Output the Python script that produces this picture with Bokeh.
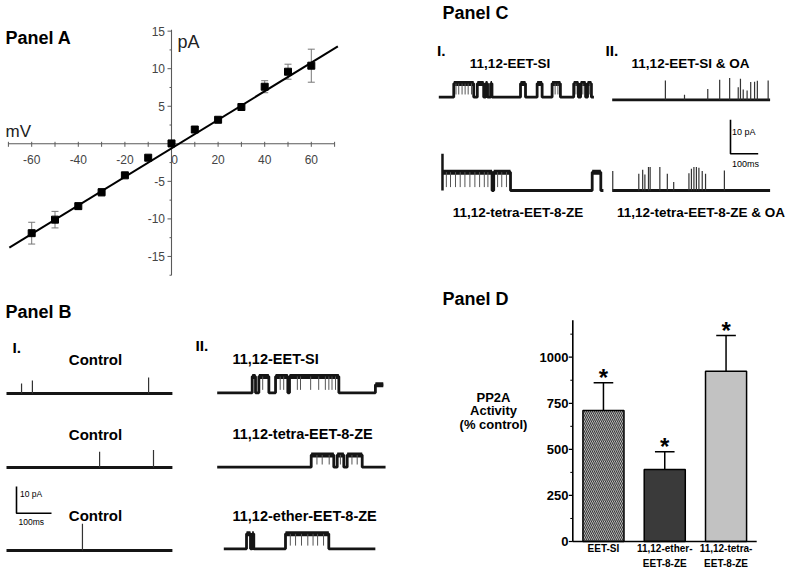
from bokeh.plotting import figure
from bokeh.layouts import row, column
from bokeh.models import Range1d, ColumnDataSource
from bokeh.core.properties import value
from bokeh.embed import file_html
from bokeh.resources import INLINE

FONT = "Liberation Sans"

# ======================= DATA =======================
# Panel A : current-voltage relation
A_VOLTAGES = [-60, -50, -40, -30, -20, -10, 0, 10, 20, 30, 40, 50, 60]          # mV
A_CURRENTS = [-11.9, -10.1, -8.3, -6.45, -4.2, -1.85, 0.05, 1.9, 3.2, 4.9, 7.6, 9.6, 10.4]  # pA
A_ERRORS = [1.45, 1.1, 0.4, 0.5, 0.3, 0.0, 0.0, 0.0, 0.0, 0.4, 0.8, 1.0, 2.2]
A_FIT_SLOPE = 0.19      # pA / mV
A_FIT_INTERCEPT = -0.6  # pA
A_FIT_SPAN = [-69.6, 71.4]
A_X_AXIS = [-70, 70]
A_Y_AXIS = [-17.5, 15.2]
A_XTICKS = [-70, -60, -50, -40, -30, -20, -10, 10, 20, 30, 40, 50, 60, 70]
A_XLABEL_VALUES = [-60, -40, -20, 0, 20, 40, 60]
A_XLABELS = ["-60", "-40", "-20", "0", "20", "40", "60"]
A_YTICKS = [-15, -10, -5, 5, 10, 15]
A_YMINOR = [-17.5, -12.5, -7.5, -2.5, 2.5, 7.5, 12.5]
A_YLABELS = ["-15", "-10", "-5", "5", "10", "15"]

# Panel B : single-channel traces (ms, pA)
B_CONTROL_LABEL = "Control"
B_CONTROL_DURATION = 474
B_CONTROL_SPIKE_TIMES = [[43, 74, 406], [266, 420], [217]]
B_CONTROL_SPIKE_AMPS = [[3.7, 4.9, 6.0], [5.9, 6.6], [10.0]]

B_DRUG_LABELS = ["11,12-EET-SI", "11,12-tetra-EET-8-ZE", "11,12-ether-EET-8-ZE"]
B_DRUG_TIMES = [
    [0, 100, 109.5, 119, 147.6, 166.7, 201.8, 206.6, 347.6, 452, 474.5],
    [0, 268.6, 333.1, 342.9, 361.7, 371.4, 414.3, 481],
    [0, 64.9, 76.3, 81.1, 85.7, 176.3, 300, 433],
]
B_DRUG_LEVELS = [
    [0, 6.1, 0, 6.1, 0, 6.1, 0, 6.1, 0, 3.0],
    [0, 4.6, 0, 4.6, 0, 4.6, 0],
    [0, 5.6, 0, 5.6, 0, 5.6, 0],
]
B_DRUG_FLICKERS = [
    [130, 180, 190, 229, 238, 267, 290, 309, 319, 328, 338],
    [285, 300, 320, 352, 385, 400],
    [190, 205, 222, 240, 255, 268, 285],
]
B_FLICKER_DEPTH = [5.0, 3.6, 4.4]

# Panel C : traces (ms, pA)
C_I_LABELS = ["11,12-EET-SI", "11,12-tetra-EET-8-ZE"]
C_I_TIMES = [
    [0, 54, 126, 139, 162, 169, 176, 187, 192, 295, 313, 355, 373, 409, 439, 487, 504, 512, 530, 537, 551, 560],
    [0, 180, 186, 246.6, 541.5, 572.6, 582],
]
C_I_LEVELS = [
    [0, 4, 0, 4, 0, 4, 0, 4, 0, 4, 0, 4, 0, 4, 0, 4, 0, 4, 0, 4, 0],
    [5.4, 0, 5.4, 0, 5.4, 0],
]
C_I_FLICKERS = [
    [62, 72, 84, 95, 106, 118, 420, 430, 495, 520, 545],
    [15, 30, 48, 65, 82, 100, 118, 135, 152, 165, 200, 215, 232],
]
C_I_FLICKER_DEPTH = [3.2, 4.4]
C_I_SPIKE_TIMES = [[], [1]]
C_I_SPIKE_AMPS = [[], [10.8]]

C_II_LABELS = ["11,12-EET-SI & OA", "11,12-tetra-EET-8-ZE & OA"]
C_II_DURATION = 570
C_II_SPIKE_TIMES = [
    [192, 261, 345, 388, 424, 455, 463, 473, 487, 500, 514, 524, 563],
    [2, 96, 110, 118, 131, 137, 172, 199, 222, 277, 286, 295, 304, 313, 325, 337, 405],
]
C_II_SPIKE_AMPS = [
    [5.7, 1.5, 3.2, 5.9, 6.4, 3.7, 6.2, 3.0, 2.7, 5.2, 5.3, 5.6, 5.7],
    [5.7, 4.9, 6.1, 4.7, 6.9, 6.9, 6.9, 4.9, 2.5, 5.1, 6.4, 6.9, 6.9, 6.7, 5.7, 4.9, 5.9],
]

SCALE_PA = 10
SCALE_MS = 100

# Panel D : PP2A activity
D_CATEGORIES = ["EET-SI", "11,12-ether-EET-8-ZE", "11,12-tetra-EET-8-ZE"]
D_TICK_LINES = [["EET-SI"], ["11,12-ether-", "EET-8-ZE"], ["11,12-tetra-", "EET-8-ZE"]]
D_VALUES = [711, 391, 924]
D_ERRORS = [150, 96, 194]
D_FILLS = ["#d8d8d8", "#3a3a3a", "#c2c2c2"]
D_HATCHES = ["left_diagonal_line", " ", " "]
D_YTICKS = [0, 250, 500, 750, 1000]
D_YMINOR = [125, 375, 625, 875, 1125]
D_YLABELS = ["0", "250", "500", "750", "1000"]
D_YMAX = 1200
D_YLABEL_LINES = ["PP2A", "Activity", "(% control)"]


# ======================= HELPERS =======================
def make_panel(x0, y0, w, h, xr, yr):
    p = figure(width=w, height=h, x_range=Range1d(*xr), y_range=Range1d(*yr),
               output_backend="svg", toolbar_location=None,
               x_axis_location=None, y_axis_location=None, min_border=0)
    p.outline_line_color = None
    p.grid.visible = False
    p.background_fill_color = "white"
    p.border_fill_color = "white"
    p.extra_x_ranges = {"px": Range1d(x0, x0 + w)}
    p.extra_y_ranges = {"px": Range1d(y0 + h, y0)}
    return p


def px_x(p, px):
    r, s = p.x_range, p.extra_x_ranges["px"]
    return r.start + (px - s.start) / (s.end - s.start) * (r.end - r.start)


def px_y(p, py):
    r, s = p.y_range, p.extra_y_ranges["px"]
    return r.start + (py - s.start) / (s.end - s.start) * (r.end - r.start)


def dx(p, n):
    return n / p.width * (p.x_range.end - p.x_range.start)


def dy(p, n):
    return n / p.height * (p.y_range.end - p.y_range.start)


def put_text(p, xs, ys, texts, size, bold=True, align="left", color="black",
             xr="px", yr="px", baseline="middle", x_offset=0):
    kw = {}
    if xr != "default":
        kw["x_range_name"] = xr
    if yr != "default":
        kw["y_range_name"] = yr
    p.text(x=list(xs), y=list(ys), text=list(texts), text_font=value(FONT),
           text_font_size=f"{size}px", text_font_style="bold" if bold else "normal",
           text_align=align, text_baseline=baseline, text_color=color,
           x_offset=x_offset, **kw)


def draw_trace(p, ox, oy, times, levels, lw=2.8, open_lw=5.0, color="#151515"):
    xs, ys = [], []
    for i, lv in enumerate(levels):
        xs += [ox + times[i], ox + times[i + 1]]
        ys += [oy + lv, oy + lv]
    p.line(xs, ys, line_width=lw, line_color=color)
    ox0 = [ox + times[i] for i, lv in enumerate(levels) if lv != 0]
    ox1 = [ox + times[i + 1] for i, lv in enumerate(levels) if lv != 0]
    oyv = [oy + lv for lv in levels if lv != 0]
    if ox0:
        p.segment(x0=ox0, y0=oyv, x1=ox1, y1=oyv, line_width=open_lw, line_color=color)


def level_at(times, levels, t):
    for i, lv in enumerate(levels):
        if times[i] <= t <= times[i + 1]:
            return lv
    return 0


def draw_spikes(p, ox, oy, times, amps, lw=1.2, color="#333333"):
    if not times:
        return
    p.segment(x0=[ox + t for t in times], y0=[oy] * len(times),
              x1=[ox + t for t in times], y1=[oy + a for a in amps],
              line_width=lw, line_color=color)


def draw_flickers(p, ox, oy, times, levels, flick, depth, color="#555555"):
    tops = [oy + level_at(times, levels, t) for t in flick]
    p.segment(x0=[ox + t for t in flick], y0=tops,
              x1=[ox + t for t in flick], y1=[tp - depth for tp in tops],
              line_width=1.0, line_color=color)


def draw_scalebar(p, cx_px, cy_px):
    cx, cy = px_x(p, cx_px), px_y(p, cy_px)
    p.line([cx, cx, cx + SCALE_MS], [cy + SCALE_PA, cy, cy], line_width=1.6,
           line_color="black")


# ======================= PANEL A =======================
A_ZERO_X, A_PX_PER_MV = 171.0, 2.33
A_ZERO_Y, A_PX_PER_PA = 143.3, 7.51
pA = make_panel(0, 0, 400, 290,
                ((0 - A_ZERO_X) / A_PX_PER_MV, (400 - A_ZERO_X) / A_PX_PER_MV),
                ((A_ZERO_Y - 290) / A_PX_PER_PA, (A_ZERO_Y - 0) / A_PX_PER_PA))
axis_col = "#5a5a5a"
pA.segment(x0=[A_X_AXIS[0], 0], y0=[0, A_Y_AXIS[0]], x1=[A_X_AXIS[1], 0], y1=[0, A_Y_AXIS[1]],
           line_width=1.1, line_color=axis_col)
pA.segment(x0=A_XTICKS, y0=[dy(pA, 2)] * len(A_XTICKS), x1=A_XTICKS,
           y1=[-dy(pA, 3)] * len(A_XTICKS), line_width=1, line_color=axis_col)
pA.segment(x0=[0] * len(A_YTICKS), y0=A_YTICKS, x1=[-dx(pA, 4)] * len(A_YTICKS), y1=A_YTICKS,
           line_width=1, line_color=axis_col)
pA.segment(x0=[0] * len(A_YMINOR), y0=A_YMINOR, x1=[-dx(pA, 2)] * len(A_YMINOR), y1=A_YMINOR,
           line_width=1, line_color=axis_col)
put_text(pA, A_XLABEL_VALUES, [159] * len(A_XLABELS), A_XLABELS, 12, bold=False,
         align="center", color="#444444", xr="default", yr="px",
         x_offset=[3 if v == 0 else 0 for v in A_XLABEL_VALUES])
put_text(pA, [164.5] * len(A_YLABELS), A_YTICKS, A_YLABELS, 12, bold=False,
         align="right", color="#444444", xr="px", yr="default")
# error bars
ev = [(v, c, e) for v, c, e in zip(A_VOLTAGES, A_CURRENTS, A_ERRORS) if e > 0]
cap = dx(pA, 3.5)
pA.segment(x0=[v for v, c, e in ev], y0=[c - e for v, c, e in ev],
           x1=[v for v, c, e in ev], y1=[c + e for v, c, e in ev], line_color="#777777", line_width=1)
pA.segment(x0=[v - cap for v, c, e in ev] * 2, y0=[c - e for v, c, e in ev] + [c + e for v, c, e in ev],
           x1=[v + cap for v, c, e in ev] * 2, y1=[c - e for v, c, e in ev] + [c + e for v, c, e in ev],
           line_color="#777777", line_width=1)
pA.line(A_FIT_SPAN, [A_FIT_SLOPE * x + A_FIT_INTERCEPT for x in A_FIT_SPAN],
        line_width=2, line_color="black")
pA.scatter(A_VOLTAGES, A_CURRENTS, marker="square", size=7, color="black")
put_text(pA, [5], [37.5], ["Panel A"], 18)
put_text(pA, [5], [131], ["mV"], 17, bold=False, color="#222222")
put_text(pA, [177], [41], ["pA"], 18, bold=False, color="#222222")

# ======================= PANEL B =======================
B_PX_PER_MS, B_PX_PER_PA = 0.35, 2.67
pB = make_panel(0, 290, 400, 278, (0, 400 / B_PX_PER_MS), (0, 278 / B_PX_PER_PA))
B_CTRL_X = 6
B_CTRL_Y = [393, 467, 550]
B_DRUG_X = [216.7, 216.7, 223.3]
B_DRUG_Y = [392.3, 466.7, 548.3]
for k in range(3):
    ox, oy = px_x(pB, B_CTRL_X), px_y(pB, B_CTRL_Y[k])
    draw_trace(pB, ox, oy, [0, B_CONTROL_DURATION], [0])
    draw_spikes(pB, ox, oy, B_CONTROL_SPIKE_TIMES[k], B_CONTROL_SPIKE_AMPS[k])
    ox, oy = px_x(pB, B_DRUG_X[k]), px_y(pB, B_DRUG_Y[k])
    draw_trace(pB, ox, oy, B_DRUG_TIMES[k], B_DRUG_LEVELS[k])
    draw_flickers(pB, ox, oy, B_DRUG_TIMES[k], B_DRUG_LEVELS[k], B_DRUG_FLICKERS[k], B_FLICKER_DEPTH[k])
draw_scalebar(pB, 16, 512.7)
label_y = [358.7, 433.7, 515.3]
put_text(pB, [5], [311], ["Panel B"], 18)
put_text(pB, [12, 195], [347, 345], ["I.", "II."], 15.5)
put_text(pB, [95] * 3, label_y, [B_CONTROL_LABEL] * 3, 15, align="center")
put_text(pB, [232] * 3, label_y, B_DRUG_LABELS, 14.5)
put_text(pB, [19.5, 18], [493.5, 521.5], ["10 pA", "100ms"], 8.5, bold=False)

# ======================= PANEL C =======================
C_PX_PER_MS, C_PX_PER_PA = 0.277, 3.4
pC = make_panel(400, 0, 390, 278, (0, 390 / C_PX_PER_MS), (0, 278 / C_PX_PER_PA))
C_I_X = [438.3, 441.7]
C_I_Y = [96.7, 190]
C_II_X = [611.7, 611.7]
C_II_Y = [99.3, 190]
for k in range(2):
    ox, oy = px_x(pC, C_I_X[k]), px_y(pC, C_I_Y[k])
    draw_trace(pC, ox, oy, C_I_TIMES[k], C_I_LEVELS[k])
    draw_flickers(pC, ox, oy, C_I_TIMES[k], C_I_LEVELS[k], C_I_FLICKERS[k], C_I_FLICKER_DEPTH[k])
    draw_spikes(pC, ox, oy, C_I_SPIKE_TIMES[k], C_I_SPIKE_AMPS[k], lw=2.5, color="#151515")
    ox, oy = px_x(pC, C_II_X[k]), px_y(pC, C_II_Y[k])
    draw_trace(pC, ox, oy, [0, C_II_DURATION], [0])
    draw_spikes(pC, ox, oy, C_II_SPIKE_TIMES[k], C_II_SPIKE_AMPS[k])
draw_scalebar(pC, 730, 153.3)
put_text(pC, [442], [12], ["Panel C"], 18)
put_text(pC, [436.5, 605], [50, 50], ["I.", "II."], 15.5)
put_text(pC, [509.5, 690], [62.5, 62.5], [C_I_LABELS[0], C_II_LABELS[0]], 13.5, align="center")
put_text(pC, [517.5, 700.5], [212, 212], [C_I_LABELS[1], C_II_LABELS[1]], 13.5, align="center")
put_text(pC, [731.5, 731.5], [131, 163.5], ["10 pA", "100ms"], 9, bold=False)

# ======================= PANEL D =======================
D_AXIS_X, D_PX_PER_CAT = 572.3, 61.3
D_AXIS_Y, D_PX_PER_UNIT = 541.0, 0.1843
pD = make_panel(400, 278, 390, 290,
                ((400 - D_AXIS_X) / D_PX_PER_CAT, (790 - D_AXIS_X) / D_PX_PER_CAT),
                ((D_AXIS_Y - 568) / D_PX_PER_UNIT, (D_AXIS_Y - 278) / D_PX_PER_UNIT))
n = len(D_CATEGORIES)
xc = [i + 0.5 for i in range(n)]
src = ColumnDataSource(dict(x=xc, top=D_VALUES, fill=D_FILLS, hatch=D_HATCHES))
pD.vbar(x="x", top="top", bottom=0, width=0.67, source=src, fill_color="fill",
        hatch_pattern="hatch", hatch_color="#333333", hatch_scale=4.0, hatch_weight=1.1,
        line_color="black", line_width=1.5)
tops = [v + e for v, e in zip(D_VALUES, D_ERRORS)]
capw = 0.16
pD.segment(x0=xc, y0=D_VALUES, x1=xc, y1=tops, line_color="black", line_width=1.5)
pD.segment(x0=[x - capw for x in xc], y0=tops, x1=[x + capw for x in xc], y1=tops,
           line_color="black", line_width=1.5)
put_text(pD, xc, [t + dy(pD, 5.0) for t in tops], ["*"] * n, 24, align="center",
         xr="default", yr="default", baseline="alphabetic")
# axes
pD.segment(x0=[0, 0], y0=[0, 0], x1=[0, n], y1=[D_YMAX, 0], line_color="black", line_width=1.6)
pD.segment(x0=[0] * len(D_YTICKS), y0=D_YTICKS, x1=[-dx(pD, 4)] * len(D_YTICKS), y1=D_YTICKS,
           line_color="black", line_width=1.2)
pD.segment(x0=[0] * len(D_YMINOR), y0=D_YMINOR, x1=[-dx(pD, 2.5)] * len(D_YMINOR), y1=D_YMINOR,
           line_color="black", line_width=1.0)
put_text(pD, [568] * len(D_YTICKS), D_YTICKS, D_YLABELS, 13, align="right",
         xr="px", yr="default")
for i, lines in enumerate(D_TICK_LINES):
    put_text(pD, [xc[i]] * len(lines), [548.3, 562.5][:len(lines)], lines, 10,
             align="center", xr="default", yr="px")
put_text(pD, [442], [298.3], ["Panel D"], 18)
put_text(pD, [493] * 3, [396.5, 410, 424], D_YLABEL_LINES, 13, align="center")

layout = row(column(pA, pB), column(pC, pD))
open("out.html", "w").write(file_html(layout, INLINE))
